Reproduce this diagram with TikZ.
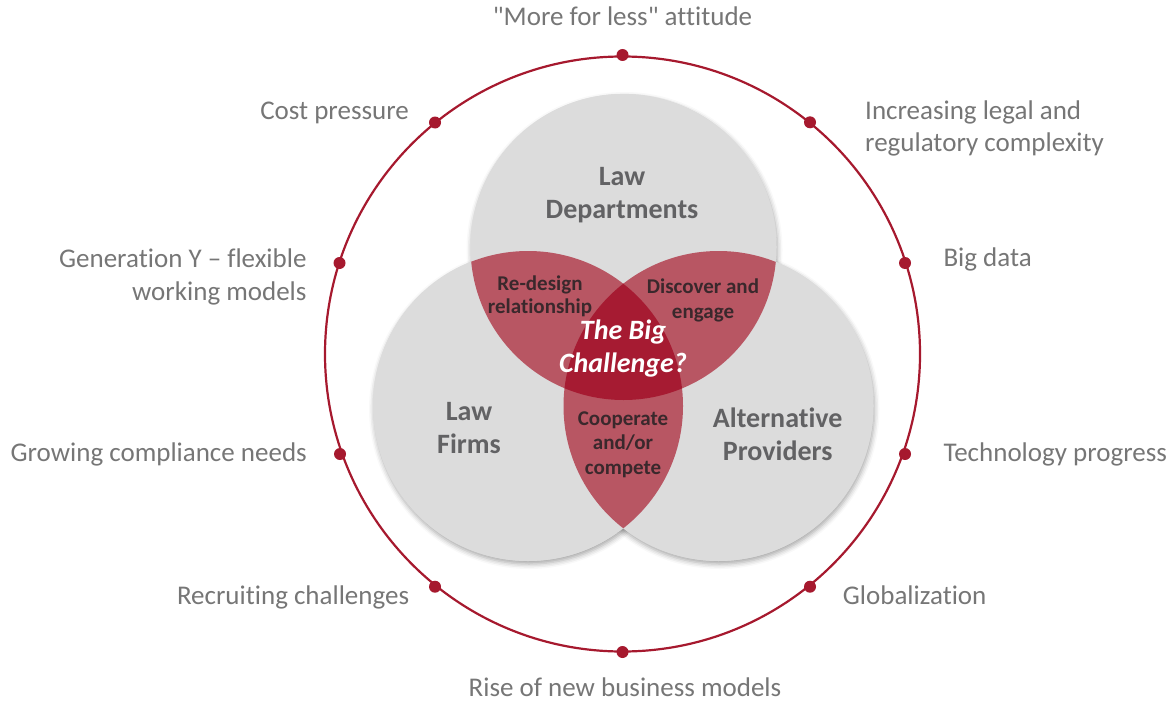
\documentclass[tikz,border=0pt]{standalone}
\usepackage{fontspec}
\setmainfont{Carlito}[Ligatures={TeXOff,NoCommon}]
\usetikzlibrary{shadows.blur}
\definecolor{ringred}{RGB}{166,25,46}
\definecolor{venngray}{RGB}{220,220,220}
\definecolor{lenspink}{RGB}{184,86,99}
\definecolor{tripred}{RGB}{166,27,50}
\definecolor{outertext}{RGB}{118,118,118}
\definecolor{venntext}{RGB}{98,98,100}
\definecolor{lenstext}{RGB}{58,40,44}
\tikzset{
  outerlab/.style={text=outertext, font=\fontsize{27}{32.4}\selectfont, inner sep=0pt},
  vennlab/.style={text=venntext, font=\bfseries\fontsize{28}{32.5}\selectfont, align=center, inner sep=0pt, anchor=base},
  lenslab/.style={text=lenstext, font=\bfseries\fontsize{21}{24}\selectfont, align=center, inner sep=0pt, anchor=base},
  biglab/.style={text=white, font=\bfseries\itshape\fontsize{28}{33.5}\selectfont, align=center, inner sep=0pt, anchor=base},
  ringdot/.style={fill=ringred},
  vennshadow/.style={blur shadow={shadow xshift=1pt, shadow yshift=-3pt, shadow blur radius=5pt, shadow opacity=35}}
}
\begin{document}
\begin{tikzpicture}[x=1pt,y=-1pt]
\useasboundingbox (0,0) rectangle (1174,701);
% outer ring
\coordinate (O) at (622.5,354);
\draw[ringred, line width=2.2pt] (O) circle (297.5pt);
% venn centres
\coordinate (cT) at (623.5,247);
\coordinate (cL) at (528,406);
\coordinate (cR) at (718.5,406);
% shadows + gray circles
\fill[venngray, vennshadow] (cT) circle (153pt);
\fill[venngray, vennshadow] (cL) circle (155pt);
\fill[venngray, vennshadow] (cR) circle (155pt);
\fill[venngray] (cT) circle (153pt);
\fill[venngray] (cL) circle (155pt);
\fill[venngray] (cR) circle (155pt);
% pairwise lenses
\begin{scope}
  \clip (cT) circle (153pt);
  \fill[lenspink] (cL) circle (155pt);
  \fill[lenspink] (cR) circle (155pt);
\end{scope}
\begin{scope}
  \clip (cL) circle (155pt);
  \fill[lenspink] (cR) circle (155pt);
\end{scope}
% triple
\begin{scope}
  \clip (cT) circle (153pt);
  \clip (cL) circle (155pt);
  \fill[tripred] (cR) circle (155pt);
\end{scope}
% dots
\coordinate (d1) at (622.5,55);
\coordinate (d2) at (435,122.5);
\coordinate (d3) at (339.5,263);
\coordinate (d4) at (340,454);
\coordinate (d5) at (435,586.7);
\coordinate (d6) at (622.5,652);
\coordinate (d7) at (810,586.7);
\coordinate (d8) at (905,454);
\coordinate (d9) at (905,263);
\coordinate (d10) at (810,122.3);
\foreach \d in {d1,d2,d3,d4,d5,d6,d7,d8,d9,d10} \fill[ringdot] (\d) circle (6pt);
% outer labels
\node[outerlab, anchor=base] (t1) at (622.5,26) {"More for less" attitude};
\node[outerlab, anchor=base east] (t2) at (409,119.3) {Cost pressure};
\node[outerlab, anchor=base east, align=right] (t3) at (306.7,300) {Generation Y – flexible\\working models};
\node[outerlab, anchor=base east] (t4) at (307,461.7) {Growing compliance needs};
\node[outerlab, anchor=base east] (t5) at (409.3,604.3) {Recruiting challenges};
\node[outerlab, anchor=base, text depth=0pt] (t6) at (625,696) {Rise of new business models};
\node[outerlab, anchor=base west] (t7) at (842.7,604.3) {Globalization};
\node[outerlab, anchor=base west] (t8) at (943.3,461.7) {Technology progress};
\node[outerlab, anchor=base west] (t9) at (943.3,266.7) {Big data};
\node[outerlab, anchor=base west, align=left] (t10) at (865,151.7) {Increasing legal and\\regulatory complexity};
% venn labels
\node[vennlab] (lT) at (622,218.3) {Law\\Departments};
\node[vennlab] (lL) at (469,453.3) {Law\\Firms};
\node[vennlab] (lR) at (777.7,460) {Alternative\\Providers};
\node[lenslab, font=\bfseries\fontsize{21}{23}\selectfont] (lTL) at (540,313) {Re-design\\relationship};
\node[lenslab, font=\bfseries\fontsize{21}{25}\selectfont] (lTR) at (703,318) {Discover and\\engage};
\node[lenslab, font=\bfseries\fontsize{21}{24.5}\selectfont] (lLR) at (623,474) {Cooperate\\and/or\\compete};
\node[biglab] (big) at (623,372.7) {The Big\\Challenge?};
\end{tikzpicture}
\end{document}
